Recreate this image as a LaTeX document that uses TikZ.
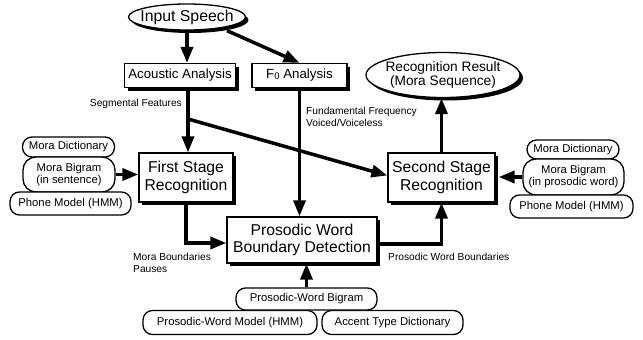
\documentclass[tikz,border=0pt]{standalone}
\usepackage{fontspec}
\setmainfont{Liberation Sans}
\usetikzlibrary{arrows.meta,shapes.geometric,shadows}

\begin{document}
\begin{tikzpicture}[x=1pt,y=-1pt]
  \tikzstyle{Shadow}=[drop shadow={shadow xshift=3pt,shadow yshift=-3pt,fill=black,opacity=1}]
  \tikzstyle{BoxStyle}=[draw,fill=white,line width=1.3pt,inner sep=0pt,align=center,Shadow]
  \tikzstyle{BigBox}=[BoxStyle,font=\fontsize{15.7}{17.5}\selectfont]
  \tikzstyle{SmallBox}=[BoxStyle,font=\fontsize{13.3}{15}\selectfont,minimum height=24pt]
  \tikzstyle{EndStyle}=[ellipse,draw,fill=white,line width=1.3pt,inner sep=0pt,Shadow]
  \tikzstyle{OvalStyle}=[draw,fill=white,line width=1.3pt,rounded corners=9.5pt,inner sep=0pt,
                          align=center,font=\fontsize{11.3}{12}\selectfont]
  \tikzstyle{TallOval}=[OvalStyle,rounded corners=13pt]
  \tikzstyle{NoteStyle}=[inner sep=0pt,align=left,font=\fontsize{10.2}{11.8}\selectfont]
  \tikzstyle{EdgeStyle}=[line width=3.5pt,-{Triangle[length=16pt,width=12pt]}]

  \useasboundingbox (0,0) rectangle (643,340);

  \node[EndStyle,minimum width=117pt,minimum height=26pt,
        label={[font=\fontsize{15.8}{17}\selectfont]center:Input Speech}] (speech) at (187,17) {};
  \node[SmallBox,minimum width=111pt] (acoustic) at (180,75.5) {Acoustic Analysis};
  \node[SmallBox,minimum width=95pt] (fzero) at (299.5,75.5)
       {F\raisebox{-0.6pt}{\fontsize{9.5}{9.5}\selectfont 0} Analysis};
  \node[EndStyle,minimum width=154pt,minimum height=45pt,
        label={[font=\fontsize{13.7}{14}\selectfont,align=center]center:Recognition Result\\(Mora Sequence)}]
        (result) at (443,75) {};

  \node[BigBox,minimum width=94pt,minimum height=49pt] (first) at (186,177.5) {First Stage\\Recognition};
  \node[BigBox,minimum width=107pt,minimum height=49pt] (second) at (441.5,177.5) {Second Stage\\Recognition};
  \node[BigBox,minimum width=150pt,minimum height=46pt] (prosodic) at (302,240) {Prosodic Word\\Boundary Detection};

  \node[OvalStyle,minimum width=92pt,minimum height=20pt] (mdictL) at (68.5,147) {Mora Dictionary};
  \node[TallOval,minimum width=92pt,minimum height=35pt] (mbigL) at (69,174.5) {Mora Bigram\\(in sentence)};
  \node[OvalStyle,minimum width=121pt,minimum height=23pt] (phoneL) at (70.5,203.5) {Phone Model (HMM)};

  \node[OvalStyle,minimum width=92pt,minimum height=19pt] (mdictR) at (573,149.5) {Mora Dictionary};
  \node[TallOval,minimum width=101pt,minimum height=36pt] (mbigR) at (573.5,177) {Mora Bigram\\(in prosodic word)};
  \node[OvalStyle,minimum width=123pt,minimum height=23pt] (phoneR) at (571.5,206.5) {Phone Model (HMM)};

  \node[OvalStyle,minimum width=174pt,minimum height=24pt] (pwmodel) at (230,322.5) {Prosodic-Word Model (HMM)};
  \node[OvalStyle,minimum width=141pt,minimum height=24pt] (accent) at (392.5,322.5) {Accent Type Dictionary};
  \node[OvalStyle,minimum width=141pt,minimum height=22pt] (pwbigram) at (306.5,299) {Prosodic-Word Bigram};

  \node[NoteStyle,anchor=east] (segfeat) at (182,104) {Segmental Features};
  \node[NoteStyle,anchor=west] (f0note) at (306,117) {Fundamental Frequency\\Voiced/Voiceless};
  \node[NoteStyle,anchor=west] (moranote) at (133,263) {Mora Boundaries\\Pauses};
  \node[NoteStyle,anchor=west] (pwbnote) at (388,257) {Prosodic Word Boundaries};

  \coordinate (seg) at (188,119);

  \draw[EdgeStyle] (speech.south) -- (speech.south |- acoustic.north);
  \draw[EdgeStyle] ([xshift=40pt]speech.south) -- (fzero.north);
  \draw[line width=3.5pt] (seg |- acoustic.south) -- (seg);
  \draw[EdgeStyle] (seg) -- (seg |- first.north);
  \draw[EdgeStyle] (seg) -- ([yshift=2pt]second.west);
  \draw[EdgeStyle] (fzero.south) -- (fzero.south |- prosodic.north);
  \draw[EdgeStyle] (mbigL.east) -- (first.west |- mbigL.east);
  \draw[EdgeStyle] (mbigR.west) -- ([xshift=3pt]second.east |- mbigR.west);
  \draw[EdgeStyle] (second.north) -- (second.north |- result.south);
  \draw[EdgeStyle] (first.south) |- ([yshift=-3pt]prosodic.west);
  \draw[EdgeStyle] ([yshift=-4pt]prosodic.east) -| (second.south);
  \draw[EdgeStyle] (pwbigram.north) -- (pwbigram.north |- prosodic.south);
\end{tikzpicture}
\end{document}
